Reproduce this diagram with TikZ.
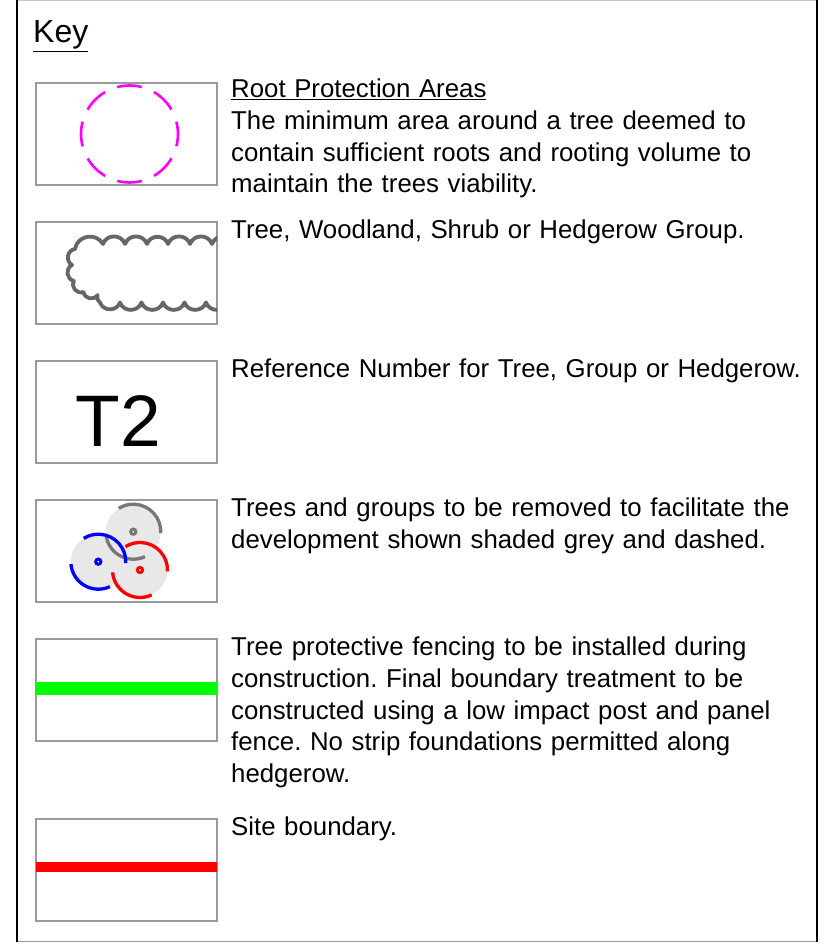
\documentclass[tikz,border=0pt]{standalone}
\usepackage{fontspec}
\setmainfont{Liberation Sans}
\frenchspacing
\usetikzlibrary{positioning}
\definecolor{rpaMagenta}{HTML}{FF00FF}
\definecolor{cloudGrey}{HTML}{666666}
\definecolor{boxGrey}{HTML}{9A9A9A}
\definecolor{shadeGrey}{HTML}{E8E8E8}
\definecolor{ringGrey}{HTML}{777777}
\definecolor{fenceGreen}{HTML}{00FF00}
\definecolor{siteRed}{HTML}{FF0000}
\definecolor{ringBlue}{HTML}{0000FF}
\tikzset{
  keybox/.style={draw=boxGrey, line width=1.1pt, minimum width=181pt,
    minimum height=102pt, inner sep=0pt, outer sep=0pt},
  keytext/.style={anchor=north west, inner sep=0pt, text width=585pt,
    align=left, font=\fontsize{25.8}{31.7}\selectfont},
  rpaline/.style={draw=rpaMagenta, line width=2.6pt,
    dash pattern=on 25pt off 13.1pt, dash phase=12.5pt},
  cloudline/.style={draw=cloudGrey, line width=3.8pt, line join=round},
  scallop/.style={bend right=70, looseness=1.25},
  ringarc/.style={line width=3.3pt},
  centredot/.style={line width=3pt, fill=white}
}
\begin{document}
\begin{tikzpicture}[x=1pt, y=1pt, node distance=37pt]
  \useasboundingbox (0,0) rectangle (828,944);
  % outer frame
  \draw[boxGrey!60, line width=1pt] (17,943.5) -- (817,943.5);
  \draw[boxGrey, line width=1.5pt] (17,2.5) -- (817,2.5);
  \draw[black, line width=2.6pt] (17,944) -- (17,2) (817,944) -- (817,2);

  \node[anchor=base west, inner sep=0pt, font=\fontsize{32}{38}\selectfont] (key) at (33,901) {\underline{Key}};

  % symbol boxes
  \node[keybox] (rpa) at (126.5,810) {};
  \node[keybox, below=of rpa] (grp) {};
  \node[keybox, below=of grp] (ref) {};
  \node[keybox, below=of ref] (rem) {};
  \node[keybox, below=of rem] (fence) {};
  \node[keybox, below=78pt of fence] (site) {};

  % descriptions
  \node[keytext] (rpatext) at ([xshift=14pt, yshift=4pt]rpa.north east)
    {\underline{Root Protection Areas}\\The minimum area around a tree deemed to\\contain sufficient roots and rooting volume to\\maintain the trees viability.};
  \node[keytext] (grptext) at ([xshift=14pt, yshift=2pt]grp.north east)
    {Tree, Woodland, Shrub or Hedgerow Group.};
  \node[keytext] (reftext) at ([xshift=14pt, yshift=2pt]ref.north east)
    {Reference Number for Tree, Group or Hedgerow.};
  \node[keytext] (remtext) at ([xshift=14pt, yshift=2pt]rem.north east)
    {Trees and groups to be removed to facilitate the\\development shown shaded grey and dashed.};
  \node[keytext] (fencetext) at ([xshift=14pt, yshift=2pt]fence.north east)
    {Tree protective fencing to be installed during\\construction. Final boundary treatment to be\\constructed using a low impact post and panel\\fence. No strip foundations permitted along\\hedgerow.};
  \node[keytext] (sitetext) at ([xshift=14pt, yshift=2pt]site.north east)
    {Site boundary.};

  % root protection area
  \draw[rpaline] ([xshift=3pt]rpa.center) circle[radius=48.5pt];

  % tree group outline
  \begin{scope}
    \clip (grp.south west) rectangle (grp.north east);
    \begin{scope}[shift={(grp.center)}]
      \draw[cloudline] (107.5,29)
        \foreach \x in {85.5,63.5,41.5,20.5,-1.5,-23.5} {to[scallop] (\x,29)}
        to[scallop] (-51.5,24) to[scallop] (-54.5,8)
        to[scallop] (-52.5,-8) to[scallop] (-43,-19)
        to[scallop] (-29,-22) to[bend right=40] (-26.5,-29.5)
        \foreach \x in {-6.5,15,36.5,58,79.5,101,122.5} {to[scallop] (\x,-29.5)};
    \end{scope}
  \end{scope}

  % reference number
  \node[font=\fontsize{73}{80}\selectfont, inner sep=0pt] (tnum) at ([xshift=-8pt, yshift=-9pt]ref.center) {T2};

  % trees to be removed
  \begin{scope}[shift={(rem.center)}]
    \foreach \p in {(6.8,19.3),(-28.2,-10.7),(13.5,-19)}
      \fill[shadeGrey] \p circle[radius=27.5pt];
    \foreach \p/\col in {(6.8,19.3)/ringGrey,(-28.2,-10.7)/ringBlue,(13.5,-19)/siteRed} {
      \draw[ringarc, draw=\col] \p ++(-3:27.5) arc[start angle=-3, end angle=122, radius=27.5pt];
      \draw[ringarc, draw=\col] \p ++(185:27.5) arc[start angle=185, end angle=295, radius=27.5pt];
      \draw[centredot, draw=\col] \p circle[radius=2.6pt];
    }
  \end{scope}

  % fencing and boundary
  \draw[fenceGreen, line width=13pt] ([yshift=1.5pt]fence.west) -- ([yshift=1.5pt]fence.east);
  \draw[siteRed, line width=10.6pt] ([yshift=3pt]site.west) -- ([yshift=3pt]site.east);
\end{tikzpicture}
\end{document}
